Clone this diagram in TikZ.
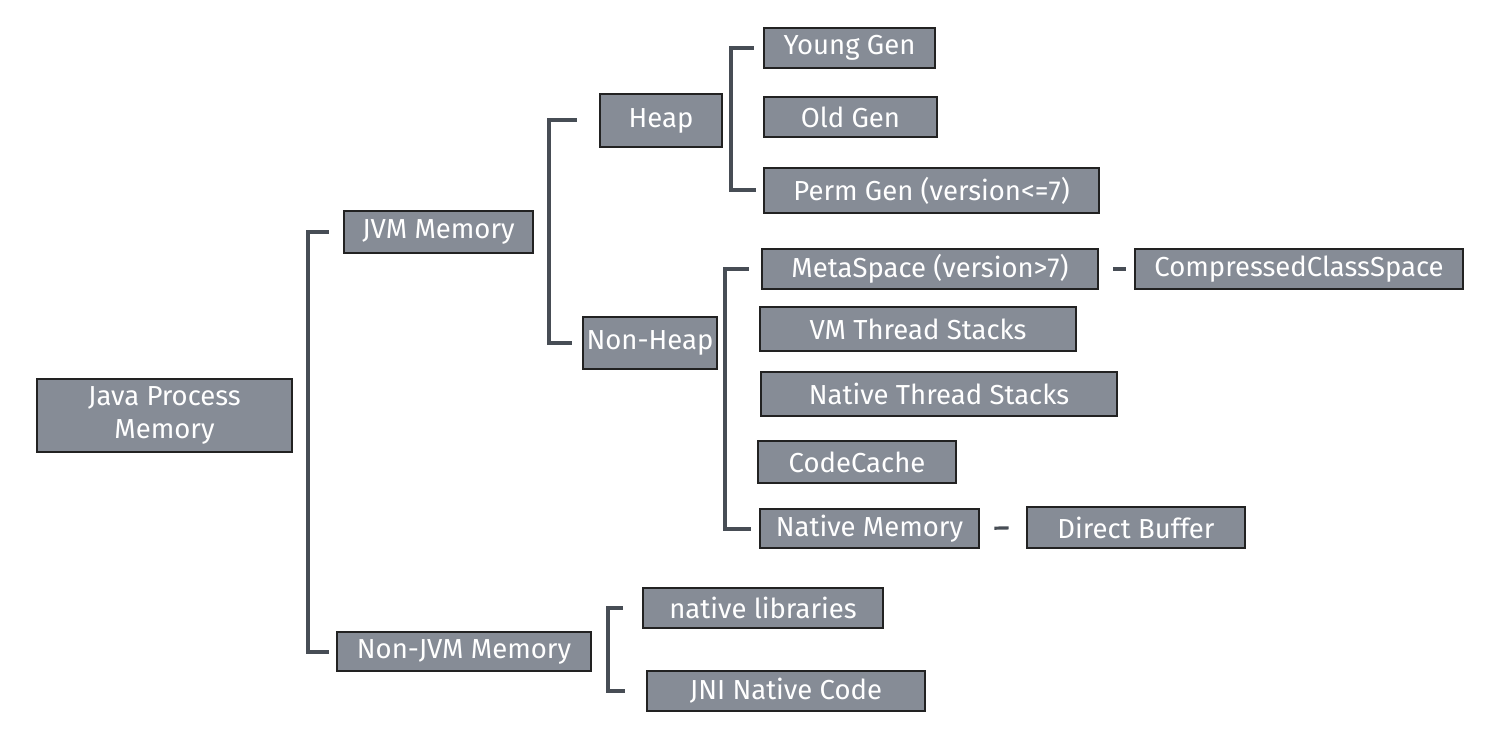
\documentclass[tikz,border=0pt]{standalone}
\usepackage{fontspec}
\setmainfont{Fira Sans}
\definecolor{boxfill}{HTML}{868C96}
\definecolor{boxline}{HTML}{222222}
\definecolor{connline}{HTML}{474D55}
\tikzset{
  membox/.style={draw=boxline, fill=boxfill, line width=1.3pt, text=white,
    font=\fontsize{13.75}{16.5}\selectfont, inner sep=0pt, align=center},
  conn/.style={draw=connline, line width=2pt},
  link/.style={draw=connline, line width=1.6pt}
}
\begin{document}
\begin{tikzpicture}[x=0.5pt,y=-0.5pt]
\useasboundingbox[fill=white] (0,0) rectangle (1496,733);
% nodes
\node[membox, minimum width=127.5pt, minimum height=36.5pt] (jpm) at (164.5,415.5) {Java Process\\Memory};
\node[membox, minimum width=94.5pt, minimum height=21pt] (jvm) at (438.5,232) {JVM Memory};
\node[membox, minimum width=127pt, minimum height=19.5pt] (nonjvm) at (464,651.5) {Non-JVM Memory};
\node[membox, minimum width=61pt, minimum height=26.5pt] (heap) at (661,120.5) {Heap};
\node[membox, minimum width=67pt, minimum height=26pt] (nonheap) at (650,343) {Non-Heap};
\node[membox, minimum width=85.5pt, minimum height=20pt] (young) at (849.5,48) {Young Gen};
\node[membox, minimum width=86.5pt, minimum height=20pt] (old) at (850.5,117) {Old Gen};
\node[membox, minimum width=167.5pt, minimum height=22.5pt] (perm) at (931.5,190.5) {Perm Gen (version<=7)};
\node[membox, minimum width=168pt, minimum height=20pt] (meta) at (930,269) {MetaSpace (version>7)};
\node[membox, minimum width=164pt, minimum height=20pt] (ccs) at (1299,269) {CompressedClassSpace};
\node[membox, minimum width=158pt, minimum height=22pt] (vmts) at (918,329) {VM Thread Stacks};
\node[membox, minimum width=178pt, minimum height=22pt] (nts) at (939,394) {Native Thread Stacks};
\node[membox, minimum width=99pt, minimum height=21pt] (cc) at (857,462) {CodeCache};
\node[membox, minimum width=109.5pt, minimum height=19.5pt] (nm) at (869.5,528.5) {Native Memory};
\node[membox, minimum width=109pt, minimum height=20.5pt] (db) at (1136,527.5) {Direct Buffer};
\node[membox, minimum width=120pt, minimum height=20pt] (nl) at (763,608) {native libraries};
\node[membox, minimum width=139pt, minimum height=20pt] (jni) at (786,691) {JNI Native Code};
% bracket spines
\coordinate (broot) at (308,0);
\coordinate (bjvm) at (549,0);
\coordinate (bheap) at (731,0);
\coordinate (bnonheap) at (725,0);
\coordinate (bnonjvm) at (608,0);
% connectors
\draw[conn] ([xshift=-7pt]jvm.west) -- (jvm.west -| broot) -- (nonjvm.west -| broot) -- ([xshift=-3.5pt]nonjvm.west);
\draw[conn] ([xshift=-11pt]heap.west) -- (heap.west -| bjvm) -- (nonheap.west -| bjvm) -- ([xshift=-5pt]nonheap.west);
\draw[conn] ([xshift=-4.5pt]young.west) -- (young.west -| bheap) -- (perm.west -| bheap) -- ([xshift=-3.5pt]perm.west);
\draw[conn] ([xshift=-6pt]meta.west) -- (meta.west -| bnonheap) -- (nm.west -| bnonheap) -- ([xshift=-4pt]nm.west);
\draw[conn] ([xshift=-9.5pt]nl.west) -- (nl.west -| bnonjvm) -- (jni.west -| bnonjvm) -- ([xshift=-10.5pt]jni.west);
\draw[link, shorten <=7pt, shorten >=4pt] (meta.east) -- (ccs.west);
\draw[link, shorten <=7pt, shorten >=8.5pt] (nm.east) -- (db.west);
\end{tikzpicture}
\end{document}
